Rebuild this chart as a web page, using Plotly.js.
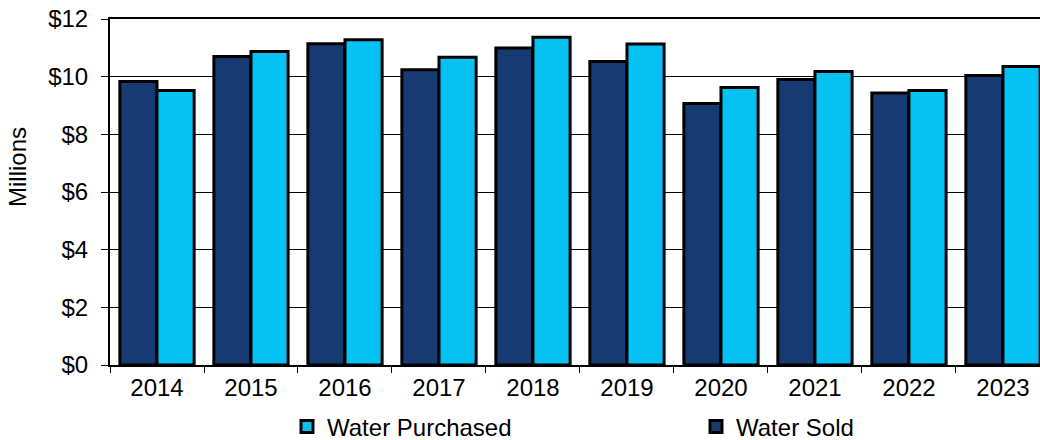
<!DOCTYPE html>
<html>
<head>
<meta charset="utf-8">
<script src="https://cdn.plot.ly/plotly-3.0.1.min.js"></script>
<style>html,body{margin:0;padding:0;background:#fff;}#chart{width:1040px;height:440px;}</style>
</head>
<body>
<div id="chart"></div>
<script>
const years = ['2014','2015','2016','2017','2018','2019','2020','2021','2022','2023'];
const waterSold = [9.83, 10.70, 11.14, 10.24, 10.99, 10.53, 9.07, 9.90, 9.43, 10.04];
const waterPurchased = [9.52, 10.87, 11.28, 10.67, 11.37, 11.13, 9.62, 10.18, 9.52, 10.35];
const yTicks = [0, 2, 4, 6, 8, 10, 12];

const FONT = 'Liberation Sans, Arial, sans-serif';

const traces = [
  {
    type: 'bar', name: 'Water Sold', x: years, y: waterSold,
    marker: {color: '#173a72', line: {color: '#000000', width: 3}},
    legend: 'legend2', hoverinfo: 'x+y'
  },
  {
    type: 'bar', name: 'Water Purchased', x: years, y: waterPurchased,
    marker: {color: '#06c2f3', line: {color: '#000000', width: 3}},
    legend: 'legend', hoverinfo: 'x+y'
  }
];

const legendBase = {
  orientation: 'h', xanchor: 'left', yref: 'container', y: 0.03, yanchor: 'middle',
  font: {family: FONT, size: 24, color: '#000'}, bgcolor: 'rgba(0,0,0,0)', borderwidth: 0
};

const layout = {
  width: 1040, height: 440,
  margin: {l: 110, r: 0, t: 19, b: 75},
  paper_bgcolor: '#ffffff', plot_bgcolor: '#ffffff',
  font: {family: FONT, size: 24, color: '#000000'},
  barmode: 'group', bargap: 0.21, bargroupgap: 0,
  showlegend: true,
  legend: Object.assign({}, legendBase, {x: (287 - 110) / 930}),
  legend2: Object.assign({}, legendBase, {x: (696 - 110) / 930}),
  xaxis: {
    type: 'category', range: [-0.5, 9.394],
    showline: true, linecolor: '#000', linewidth: 2, mirror: true,
    ticks: 'outside', tickson: 'boundaries', ticklen: 6, tickcolor: '#000', tickwidth: 1,
    showgrid: false, tickfont: {family: FONT, size: 24, color: '#000'}, fixedrange: true
  },
  yaxis: {
    range: [0, 12], tickvals: yTicks, ticktext: yTicks.map(v => '$' + v),
    showline: true, linecolor: '#000', linewidth: 2,
    ticks: 'outside', ticklen: 7, tickcolor: '#000', tickwidth: 1,
    showgrid: true, gridcolor: '#000', gridwidth: 1, zeroline: false,
    ticklabelstandoff: 8,
    tickfont: {family: FONT, size: 24, color: '#000'}, fixedrange: true
  },
  annotations: [{
    text: 'Millions', textangle: -90, xref: 'paper', yref: 'paper',
    x: (17.5 - 110) / 930, y: (365 - 167.5) / 346, xanchor: 'center', yanchor: 'middle',
    showarrow: false, font: {family: FONT, size: 24, color: '#000'}
  }]
};

Plotly.newPlot('chart', traces, layout, {displayModeBar: false, staticPlot: true});
</script>
</body>
</html>
